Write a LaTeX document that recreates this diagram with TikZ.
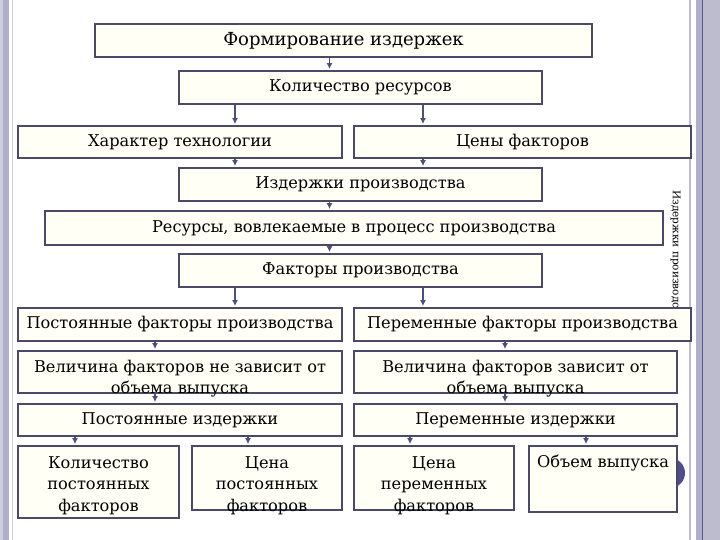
\documentclass[tikz,border=0pt]{standalone}
\usepackage{fontspec}
\setmainfont{DejaVu Serif}
\usetikzlibrary{arrows.meta}
\definecolor{frame}{HTML}{4A4A68}
\definecolor{arrowc}{HTML}{4F4F7C}
\definecolor{paper}{HTML}{FFFFF6}
\definecolor{rim}{HTML}{B0AFC8}
\definecolor{rimpale}{HTML}{CFCEDE}
\definecolor{rimline}{HTML}{BDBCCF}
\definecolor{rimdark}{HTML}{5A5894}
\definecolor{bulb}{HTML}{4C4E8E}
\tikzset{
  box/.style={draw=frame, line width=2.2pt, fill=paper, inner sep=0pt, align=center,
    font=\fontsize{16.2}{21.5}\selectfont},
  headbox/.style={box, font=\fontsize{18}{22}\selectfont},
  overflow/.style={text height=#1, text depth=3.9pt, inner ysep=-5pt},
  arr/.style={draw=arrowc, line width=1.3pt, shorten >=0.8pt, -{Latex[length=6pt,width=6pt]}},
  side/.style={inner sep=0pt, font=\fontsize{10.5}{12}\selectfont}
}
\begin{document}
\begin{tikzpicture}[x=1pt,y=-1pt]
    \useasboundingbox (0,0) rectangle (720,540);
    \fill[white] (0,0) rectangle (720,540);
    % slide rims
    \fill[rimpale] (0,0) rectangle (2.7,540);
    \fill[rim] (2.7,0) rectangle (9,540);
    \draw[rimpale, line width=0.8pt] (12.7,0) -- (12.7,540);
    \fill[rimline] (688.7,0) rectangle (691,540);
    \fill[rim] (696,0) rectangle (701.7,540);
    \fill[rimdark] (701.7,0) rectangle (702.8,540);
    \fill[rimline] (702.8,0) rectangle (720,540);
    \node[side, rotate=-90, anchor=west] (sidenote) at (675.5,190) {Издержки производства};
    \fill[bulb] (670,473) circle[radius=15pt];
    % columns of the arrows
    \coordinate (mid) at (329.5,0);
    \coordinate (lft) at (235,0);
    \coordinate (rgt) at (423,0);
    \coordinate (lfa) at (155,0);
    \coordinate (rga) at (505,0);
    \coordinate (qa) at (75,0);
    \coordinate (qb) at (248,0);
    \coordinate (qc) at (410,0);
    \coordinate (qd) at (586,0);
    % boxes
    \node[headbox, minimum width=497, minimum height=33] (form) at (343.5,40.5) {Формирование издержек};
    \node[box, minimum width=363, minimum height=33] (amount) at (360.5,87.5) {Количество ресурсов};
    \node[box, minimum width=324, minimum height=32] (tech) at (180,142) {Характер технологии};
    \node[box, minimum width=337, minimum height=32] (prices) at (522.5,142) {Цены факторов};
    \node[box, minimum width=363, minimum height=33] (costs) at (360.5,184.5) {Издержки производства};
    \node[box, minimum width=618, minimum height=34] (res) at (354,228) {Ресурсы, вовлекаемые в процесс производства};
    \node[box, minimum width=363, minimum height=33] (factors) at (360.5,270.5) {Факторы производства};
    \node[box, minimum width=324, minimum height=33] (fixf) at (180,324.5) {Постоянные факторы производства};
    \node[box, minimum width=337, minimum height=33] (varf) at (522.5,324.5) {Переменные факторы производства};
    \node[box, minimum width=324, minimum height=42, overflow=46.9pt] (fixdep) at (180,372) {Величина факторов не зависит от\\объема выпуска};
    \node[box, minimum width=323, minimum height=42, overflow=46.9pt] (vardep) at (515.5,372) {Величина факторов зависит от\\объема выпуска};
    \node[box, minimum width=324, minimum height=32] (fixc) at (180,420) {Постоянные издержки};
    \node[box, minimum width=323, minimum height=32] (varc) at (515.5,420) {Переменные издержки};
    \node[box, minimum width=161, minimum height=72, overflow=61.9pt] (fixq) at (98.5,482) {Количество\\постоянных\\факторов};
    \node[box, minimum width=150, minimum height=64, overflow=69.9pt] (fixp) at (267,478) {Цена\\постоянных\\факторов};
    \node[box, minimum width=160, minimum height=64, overflow=69.9pt] (varp) at (434,478) {Цена\\переменных\\факторов};
    \node[box, minimum width=148, minimum height=66, text depth=35.9pt] (output) at (603,479) {Объем выпуска};
    % arrows
    \draw[arr] (form.south -| mid) -- (amount.north -| mid);
    \draw[arr] (amount.south -| lft) -- (tech.north -| lft);
    \draw[arr] (amount.south -| rgt) -- (prices.north -| rgt);
    \draw[arr] (tech.south -| lft) -- (costs.north -| lft);
    \draw[arr] (prices.south -| rgt) -- (costs.north -| rgt);
    \draw[arr] (costs.south -| mid) -- (res.north -| mid);
    \draw[arr] (res.south -| mid) -- (factors.north -| mid);
    \draw[arr] (factors.south -| lft) -- (fixf.north -| lft);
    \draw[arr] (factors.south -| rgt) -- (varf.north -| rgt);
    \draw[arr] (fixf.south -| lfa) -- (fixdep.north -| lfa);
    \draw[arr] (varf.south -| rga) -- (vardep.north -| rga);
    \draw[arr] (fixdep.south -| lfa) -- (fixc.north -| lfa);
    \draw[arr] (vardep.south -| rga) -- (varc.north -| rga);
    \draw[arr] (fixc.south -| qa) -- (fixq.north -| qa);
    \draw[arr] (fixc.south -| qb) -- (fixp.north -| qb);
    \draw[arr] (varc.south -| qc) -- (varp.north -| qc);
    \draw[arr] (varc.south -| qd) -- (output.north -| qd);
\end{tikzpicture}
\end{document}
